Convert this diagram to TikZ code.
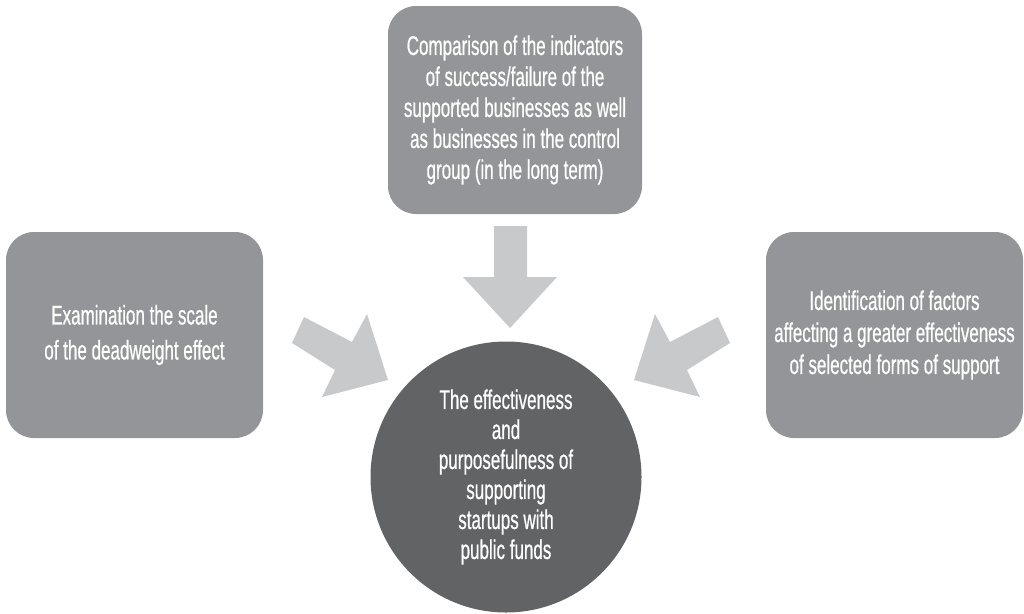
\documentclass[tikz,border=0pt]{standalone}
\usepackage{fontspec}
\setmainfont[FakeStretch=0.63,FakeBold=0.6]{Liberation Sans}
\definecolor{boxgray}{HTML}{939598}
\definecolor{circgray}{HTML}{626365}
\definecolor{arrgray}{HTML}{C8C9CB}
\begin{document}
\begin{tikzpicture}[x=1pt,y=-1pt,
  box/.style={fill=boxgray, rounded corners=28pt, text=white, align=center,
    inner sep=0pt, minimum width=257pt, minimum height=206pt},
  goalnode/.style={circle, fill=circgray, text=white, align=center,
    inner sep=0pt, minimum size=271pt},
  blockarrow/.style={fill=arrgray, draw=none}]
\useasboundingbox (0,0) rectangle (1024,613);

\node[box, minimum width=254pt, minimum height=208pt, font=\fontsize{27}{31}\selectfont] (top) at (515,110)
  {Comparison of the indicators\\ of success/failure of the\\ supported businesses as well\\ as businesses in the control\\ group (in the long term)};
\node[box, font=\fontsize{27}{35}\selectfont] (left) at (134.5,335)
  {Examination the scale\\ of the deadweight effect};
\node[box, font=\fontsize{27}{32}\selectfont] (right) at (894.5,335)
  {Identification of factors\\ affecting a greater effectiveness\\ of selected forms of support};
\node[goalnode, font=\fontsize{27}{30}\selectfont] (goal) at (506,477)
  {The effectiveness\\ and\\ purposefulness of\\ supporting\\ startups with\\ public funds};

% block arrows
\fill[blockarrow] (494,226) -- (527,226) -- (527,277) -- (557,277) -- (510,328) -- (463,277) -- (494,277) -- cycle;
\fill[blockarrow] (304,317) -- (352,342) -- (367,314) -- (388,380) -- (322,397) -- (335,370) -- (292,343) -- cycle;
\fill[blockarrow] (718,317) -- (670,342) -- (655,314) -- (634,380) -- (700,397) -- (687,370) -- (730,343) -- cycle;
\end{tikzpicture}
\end{document}
